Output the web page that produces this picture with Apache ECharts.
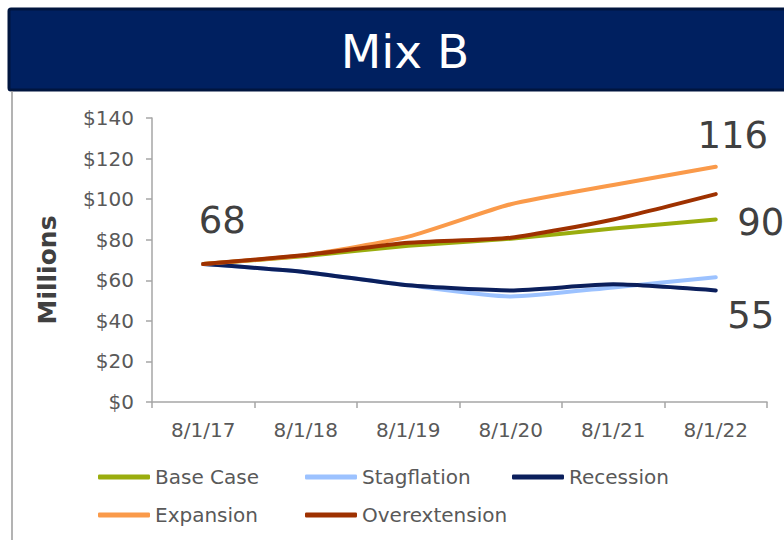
<!DOCTYPE html>
<html>
<head>
<meta charset="utf-8">
<script src="https://cdn.jsdelivr.net/npm/echarts@6/dist/echarts.min.js"></script>
<style>
html,body{margin:0;padding:0;background:#fff;}
#chart{width:784px;height:540px;}
</style>
</head>
<body>
<div id="chart"></div>
<script>
var titleText = 'Mix B';
var yAxisName = 'Millions';
var categories = ['8/1/17', '8/1/18', '8/1/19', '8/1/20', '8/1/21', '8/1/22'];
var seriesNames = ['Base Case', 'Stagflation', 'Recession', 'Expansion', 'Overextension'];
var baseCase = [68, 72, 77, 80.5, 85.5, 90];
var stagflation = [68, 64, 57.5, 52, 56.5, 61.5];
var recession = [68, 64, 57.5, 55, 58, 55];
var expansion = [68, 72.5, 81.5, 97.5, 107, 116];
var overextension = [68, 72.5, 78.5, 81, 90, 102.5];
var seriesColors = ['#9aad0e', '#9cc2ff', '#0b1f5c', '#fa9a4a', '#9e3100'];
// annotated points: [series index, category index, label offset]
var callouts = [
  [0, 0, [19, -44]],
  [3, 5, [17, -31]],
  [0, 5, [45, 3]],
  [2, 5, [35, 25]]
];

var allData = [baseCase, stagflation, recession, expansion, overextension];

function buildData(si) {
  return allData[si].map(function (v, ci) {
    var item = { value: v };
    callouts.forEach(function (c) {
      if (c[0] === si && c[1] === ci) {
        item.label = {
          show: true,
          position: 'inside',
          offset: c[2],
          formatter: function (p) { return Math.round(p.value); },
          fontFamily: 'DejaVu Sans',
          fontSize: 37,
          color: '#404040'
        };
      }
    });
    return item;
  });
}

var chart = echarts.init(document.getElementById('chart'), null, { renderer: 'svg' });

var series = seriesNames.map(function (name, si) {
  return {
    name: name,
    type: 'line',
    data: buildData(si),
    smooth: 0.2,
    symbol: 'circle',
    symbolSize: 1,
    showSymbol: true,
    lineStyle: { width: 4, color: seriesColors[si], cap: 'round', join: 'round' },
    itemStyle: { color: seriesColors[si] },
    label: { show: false },
    emphasis: { disabled: true },
    z: 2 + si
  };
});

chart.setOption({
  animation: false,
  backgroundColor: '#ffffff',
  graphic: [
    {
      type: 'rect',
      shape: { x: 9, y: 9, width: 790, height: 81, r: 2 },
      style: { fill: '#002060', stroke: '#00153f', lineWidth: 3 },
      z: 0
    },
    {
      type: 'text',
      x: 405,
      y: 51,
      style: {
        text: titleText,
        fill: '#ffffff',
        font: '47px "DejaVu Sans"',
        align: 'center',
        verticalAlign: 'middle'
      },
      z: 1
    },
    {
      type: 'text',
      x: 47,
      y: 270,
      rotation: Math.PI / 2,
      style: {
        text: yAxisName,
        fill: '#404040',
        font: 'bold 25px "DejaVu Sans"',
        align: 'center',
        verticalAlign: 'middle'
      },
      z: 1
    },
    {
      type: 'line',
      shape: { x1: 12, y1: 91, x2: 12, y2: 540 },
      style: { stroke: '#9a9a9a', lineWidth: 1.5 },
      z: 0
    }
  ],
  grid: { left: 152, right: 17, top: 118, bottom: 138, containLabel: false },
  xAxis: {
    type: 'category',
    data: categories,
    boundaryGap: true,
    axisLine: { show: true, lineStyle: { color: '#a6a6a6', width: 1.5 } },
    axisTick: { show: true, length: 6, lineStyle: { color: '#a6a6a6', width: 1.5 } },
    axisLabel: { margin: 18, fontFamily: 'DejaVu Sans', fontSize: 20, color: '#595959' },
    splitLine: { show: false }
  },
  yAxis: {
    type: 'value',
    min: 0,
    max: 140,
    interval: 20,
    axisLine: { show: true, lineStyle: { color: '#a6a6a6', width: 1.5 } },
    axisTick: { show: true, length: 6, lineStyle: { color: '#a6a6a6', width: 1.5 } },
    axisLabel: {
      margin: 18,
      fontFamily: 'DejaVu Sans',
      fontSize: 20,
      color: '#595959',
      formatter: function (v) { return '$' + v; }
    },
    splitLine: { show: false }
  },
  legend: {
    left: 93,
    top: 453,
    width: 640,
    itemGap: 0,
    itemWidth: 52,
    itemHeight: 5,
    icon: 'roundRect',
    data: seriesNames,
    textStyle: {
      fontFamily: 'DejaVu Sans',
      fontSize: 20,
      color: '#595959',
      width: 150,
      lineHeight: 38
    }
  },
  series: series
});
</script>
</body>
</html>
